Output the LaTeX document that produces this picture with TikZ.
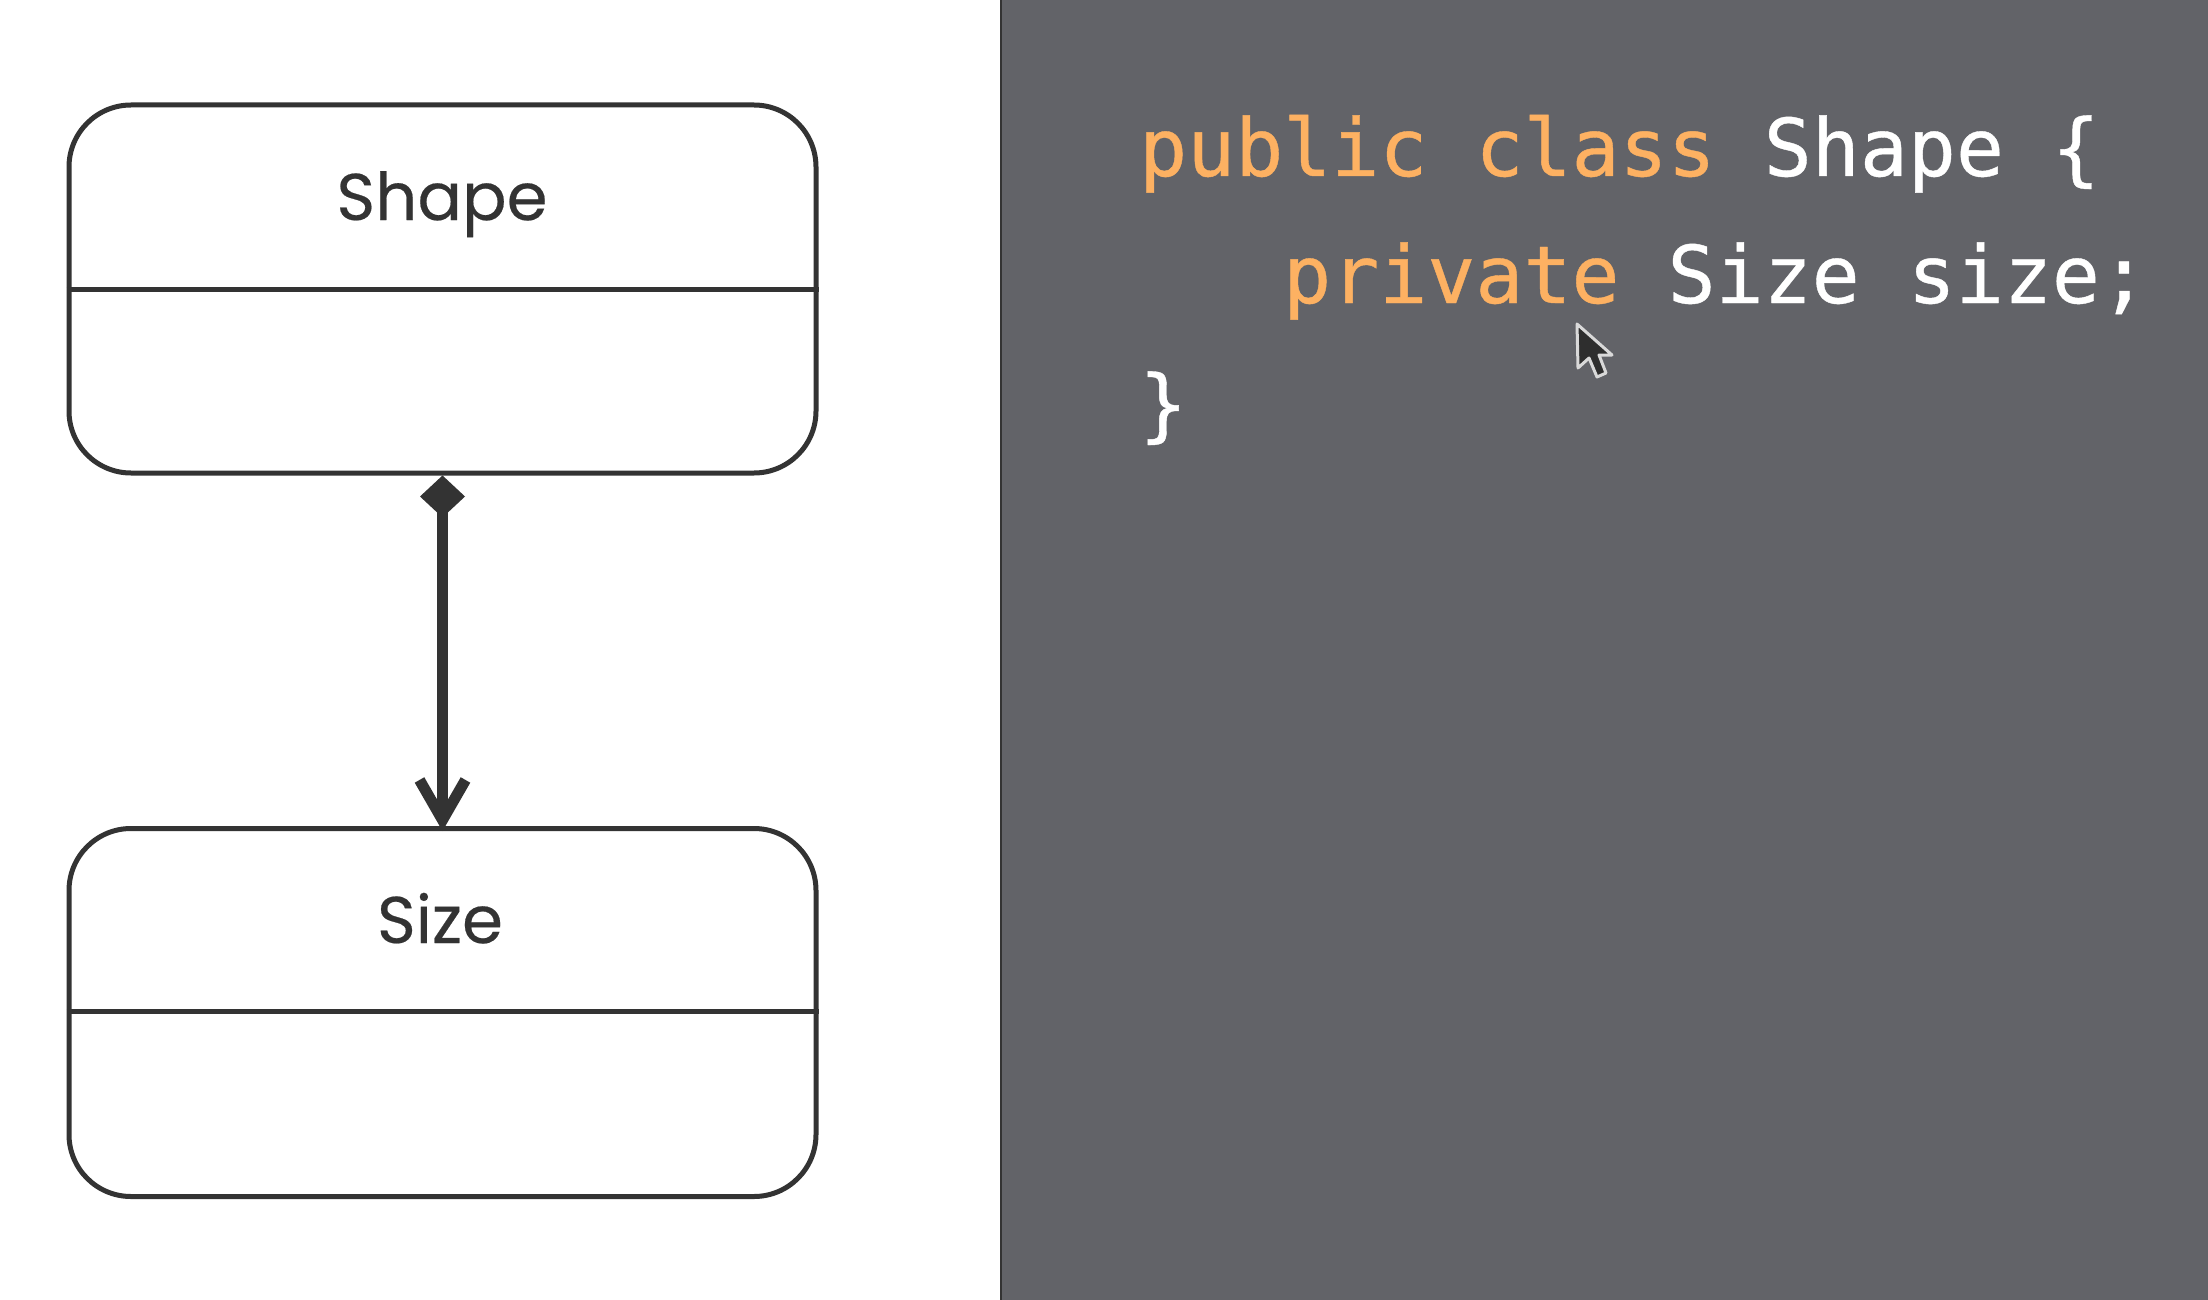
\documentclass[tikz,border=0pt]{standalone}
\usepackage{fontspec}
\setmainfont[FakeBold=0.3]{Poppins}
\setmonofont[FakeBold=0.5]{DejaVu Sans Mono}
\usepackage{xcolor}
\usetikzlibrary{arrows.meta,positioning}
\definecolor{inkdark}{HTML}{333333}
\definecolor{panelgray}{HTML}{626368}
\definecolor{keyorange}{HTML}{FDB162}
\tikzset{
  classbox/.style={draw=inkdark, line width=5pt, rounded corners=62pt, minimum width=747pt, minimum height=368pt, inner sep=0pt},
  classline/.style={inkdark, line width=5pt},
  classname/.style={text=inkdark, font=\fontsize{66}{66}\selectfont, anchor=base},
  codeline/.style={anchor=base west, inner sep=0pt, text=white, font=\ttfamily\fontsize{79.8}{80}\selectfont},
}
\begin{document}
\begin{tikzpicture}[x=1pt, y=-1pt, >=Stealth]
\useasboundingbox (0,0) rectangle (2208,1300);
\fill[white] (0,0) rectangle (2208,1300);
% --- Left: classes ---
\node[classbox] (shapebox) at (442.5,289) {};
\node[classbox] (sizebox) at (442.5,1012.5) {};
\draw[classline] (shapebox.west |- 0,289) -- (shapebox.east |- 0,289);
\draw[classline] (sizebox.west |- 0,1011) -- (sizebox.east |- 0,1011);
\node[classname] (shapename) at (442,220) {Shape};
\node[classname] (sizename) at (440,943) {Size};
\draw[inkdark, line width=11pt, shorten >=-5pt, {Diamond[length=42pt, width=45pt, line width=0pt]}-{Straight Barb[length=40pt, width=46pt, line width=11pt]}] (shapebox.south) -- (sizebox.north);
% --- Right: code ---
\fill[panelgray] (1001,0) rectangle (2208,1300);
\draw[inkdark, line width=1.5pt] (1001,0) -- (1001,1300);
\node[codeline] (firstline) at (1139,176) {\textcolor{keyorange}{public class} Shape \{};
\node[codeline] (secondline) at (1283,303) {\textcolor{keyorange}{private} Size size;};
\node[codeline] (lastline) at (1139,432) {\}};
\filldraw[fill=inkdark!90!black, draw=white!85!black, line width=3pt, line join=round] (1577,324) -- (1578,368) -- (1589,358) -- (1597,377) -- (1606,373) -- (1599,355) -- (1612,355) -- cycle;
\end{tikzpicture}
\end{document}
